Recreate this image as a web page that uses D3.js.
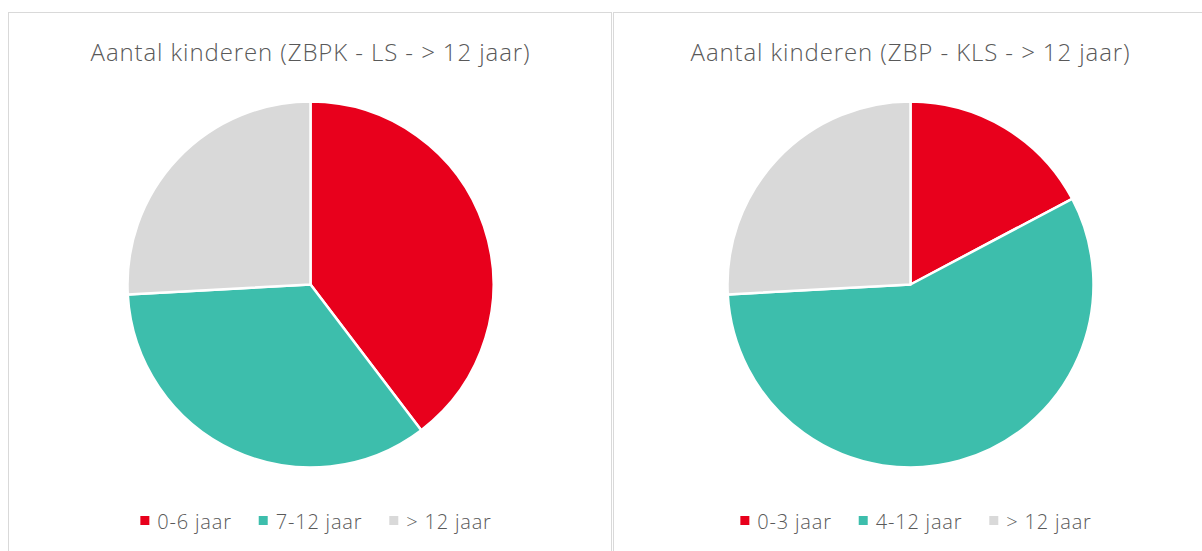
<!DOCTYPE html>
<html>
<head>
<meta charset="utf-8">
<script src="https://cdn.jsdelivr.net/npm/d3@7"></script>
<style>
  html, body { margin: 0; padding: 0; background: #fff; }
  svg { display: block; }
  text { font-family: "Open Sans", "Noto Sans", sans-serif; fill: #595959; }
</style>
</head>
<body>
<svg id="chart" width="1202" height="551"></svg>
<script>
// ---- data ----
const titles = ["Aantal kinderen (ZBPK - LS - > 12 jaar)", "Aantal kinderen (ZBP - KLS - > 12 jaar)"];
const categoriesLeft = ["0-6 jaar", "7-12 jaar", "> 12 jaar"];
const categoriesRight = ["0-3 jaar", "4-12 jaar", "> 12 jaar"];
const valuesLeft = [46, 40, 30];
const valuesRight = [20, 66, 30];
const colors = ["#E8001C", "#3DBEAC", "#D9D9D9"];

const svg = d3.select("#chart");

// panel borders
svg.append("rect").attr("x", 8.5).attr("y", 12.5).attr("width", 603).attr("height", 560)
  .attr("fill", "none").attr("stroke", "#D9D9D9").attr("stroke-width", 1);
svg.append("rect").attr("x", 613.5).attr("y", 12.5).attr("width", 603).attr("height", 560)
  .attr("fill", "none").attr("stroke", "#D9D9D9").attr("stroke-width", 1);

const charts = [
  { title: titles[0], cats: categoriesLeft, vals: valuesLeft, cx: 310.5, cy: 284.5 },
  { title: titles[1], cats: categoriesRight, vals: valuesRight, cx: 910.5, cy: 284.5 }
];

const radius = 183;
const pie = d3.pie().sort(null).value(d => d.v);
const arc = d3.arc().innerRadius(0).outerRadius(radius);
const color = d3.scaleOrdinal().domain([0, 1, 2]).range(colors);

charts.forEach(c => {
  const g = svg.append("g");
  g.append("text")
    .attr("x", c.cx).attr("y", 61)
    .attr("text-anchor", "middle")
    .style("font-size", "24px").style("font-weight", 300)
    .style("letter-spacing", "0.9px")
    .text(c.title);

  const data = c.vals.map((v, i) => ({ v, i, name: c.cats[i] }));
  const pg = g.append("g").attr("transform", `translate(${c.cx},${c.cy})`);
  pg.selectAll("path").data(pie(data)).join("path")
    .attr("d", arc)
    .attr("fill", d => color(d.data.i))
    .attr("stroke", "#fff").attr("stroke-width", 2.5).attr("stroke-linejoin", "round");

  // legend
  const lg = g.append("g");
  const items = lg.selectAll("g").data(data).join("g");
  items.append("rect").attr("width", 9).attr("height", 9).attr("y", -13)
    .attr("fill", d => color(d.i));
  items.append("text").attr("x", 17).attr("y", 0)
    .style("font-size", "20px").style("font-weight", 300)
    .style("letter-spacing", "0.8px")
    .text(d => d.name);
  let x = 0;
  items.each(function() {
    const w = d3.select(this).select("text").node().getComputedTextLength();
    d3.select(this).attr("transform", `translate(${x},0)`);
    x += 17 + w + 27;
  });
  const total = x - 27;
  lg.attr("transform", `translate(${c.cx + 5.5 - total / 2},529)`);
});
</script>
</body>
</html>
